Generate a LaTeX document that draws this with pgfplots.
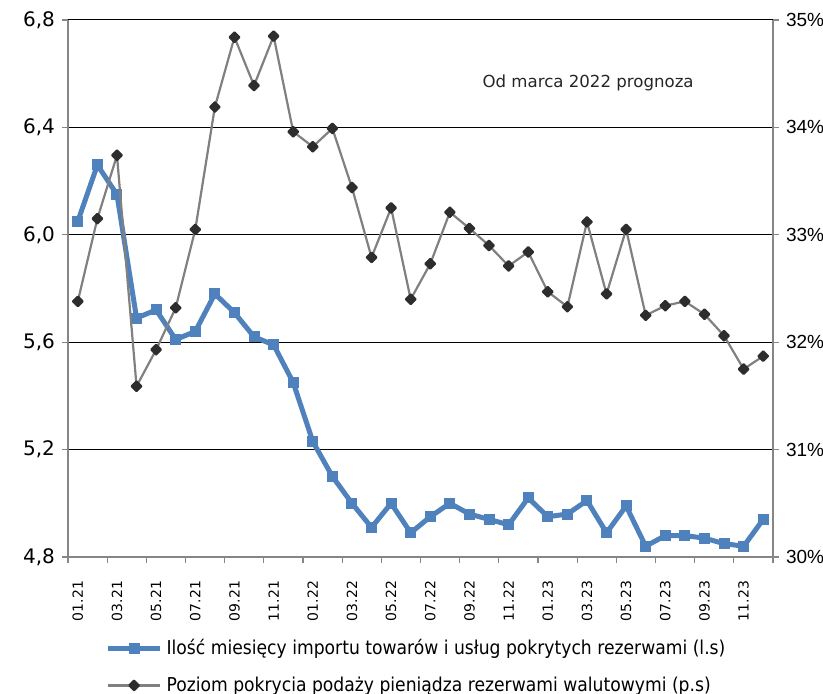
\documentclass[border=0pt]{standalone}
\usepackage{fontspec}
\setmainfont{DejaVu Sans}
\newfontfamily\cond{DejaVu Sans Condensed}
\newfontfamily\arial{Liberation Sans}
\usepackage{pgfplots}
\pgfplotsset{compat=1.18}
\definecolor{seriesblue}{RGB}{79,129,189}
\definecolor{axisgray}{RGB}{134,134,134}
\definecolor{linegray}{RGB}{128,128,128}
\definecolor{markdark}{RGB}{45,45,45}

% months 01.21 .. 12.23 plotted at 0..35
\pgfplotstableread{
i imp
0 6.05
1 6.26
2 6.15
3 5.69
4 5.72
5 5.61
6 5.64
7 5.78
8 5.71
9 5.62
10 5.59
11 5.45
12 5.23
13 5.10
14 5.00
15 4.91
16 5.00
17 4.89
18 4.95
19 5.00
20 4.96
21 4.94
22 4.92
23 5.02
24 4.95
25 4.96
26 5.01
27 4.89
28 4.99
29 4.84
30 4.88
31 4.88
32 4.87
33 4.85
34 4.84
35 4.94
}\imports

\pgfplotstableread{
i cov
0 32.38
1 33.15
2 33.74
3 31.59
4 31.93
5 32.32
6 33.05
7 34.19
8 34.84
9 34.39
10 34.85
11 33.96
12 33.82
13 33.99
14 33.44
15 32.79
16 33.25
17 32.40
18 32.73
19 33.21
20 33.06
21 32.90
22 32.71
23 32.84
24 32.47
25 32.33
26 33.12
27 32.45
28 33.05
29 32.25
30 32.34
31 32.38
32 32.26
33 32.06
34 31.75
35 31.87
}\coverage

\begin{document}
\begin{tikzpicture}
\pgfplotsset{
  base/.style={
    scale only axis, width=352.5pt, height=268.5pt,
    xmin=-0.5, xmax=35.5,
    axis line style={axisgray, line width=0.6pt},
    tick style={axisgray, line width=0.6pt},
    tick align=outside, major tick length=3pt,
    /pgf/number format/assume math mode=true,
    clip=false,
  },
}
\begin{axis}[base,
  axis y line*=left, axis x line*=bottom,
  ymin=4.8, ymax=6.8,
  ytick={4.8,5.2,5.6,6.0,6.4,6.8},
  ymajorgrids, grid style={black, line width=0.5pt},
  yticklabel style={font=\fontsize{10}{12}\selectfont,
    /pgf/number format/.cd, fixed, fixed zerofill, precision=1, use comma},
  xtick={-0.5,1.5,...,35.5}, xticklabels={},
  extra x ticks={0,2,...,34},
  extra x tick labels={01.21,03.21,05.21,07.21,09.21,11.21,01.22,03.22,05.22,07.22,09.22,11.22,01.23,03.23,05.23,07.23,09.23,11.23},
  extra x tick style={major tick length=0pt},
  xticklabel style={rotate=90, anchor=east, font=\fontsize{7}{8}\selectfont},
  xticklabel shift=8.5pt,
]
\addplot[seriesblue, line width=2.5pt, line join=round, mark=square*, mark size=2.5pt,
  mark options={solid, fill=seriesblue, draw=seriesblue, line width=0pt}]
  table[x=i, y=imp] {\imports};
\end{axis}

\begin{axis}[base,
  axis y line*=right, axis x line=none,
  ymin=30, ymax=35, ytick={30,31,32,33,34,35},
  yticklabel={\arial\pgfmathprintnumber{\tick}\%},
  yticklabel style={font=\fontsize{9.5}{11}\selectfont},
  legend style={at={(0.5,0)}, anchor=north, xshift=-1.5pt, yshift=-39pt,
    draw=none, fill=none, font=\cond\fontsize{9.55}{11}\selectfont,
    row sep=5.5pt, inner sep=0pt, nodes={inner sep=2pt}},
  legend cell align=left,
  legend image code/.code={
    \draw[mark repeat=2, mark phase=2] plot coordinates {(0pt,0pt) (13pt,0pt) (26pt,0pt)};},
]
\addlegendimage{seriesblue, line width=2.5pt, mark=square*, mark size=2.5pt,
  mark options={solid, fill=seriesblue, draw=seriesblue, line width=0pt}}
\addlegendentry{Ilość miesięcy importu towarów i usług pokrytych rezerwami (l.s)}
\addplot[linegray, line width=1.1pt, line join=round, mark=square*, mark size=1.7pt,
  mark options={solid, rotate=45, fill=markdark, draw=markdark}]
  table[x=i, y=cov] {\coverage};
\addlegendentry{Poziom pokrycia podaży pieniądza rezerwami walutowymi (p.s)}
\node[font=\fontsize{8.3}{10}\selectfont, text=black!85] at (axis cs:26.06,34.41) {Od marca 2022 prognoza};
\end{axis}

\pgfresetboundingbox
\path[use as bounding box] (-34pt,-68.5pt) rectangle (377.5pt,278.5pt);
\end{tikzpicture}
\end{document}
